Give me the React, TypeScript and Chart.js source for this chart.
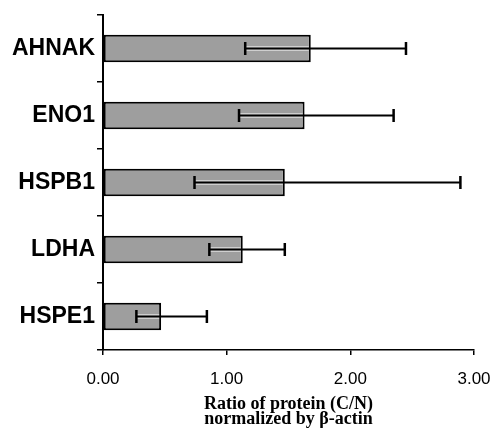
import React, { useEffect, useRef } from "react";
import { Chart, registerables } from "chart.js";

Chart.register(...registerables);

const categories = ["AHNAK", "ENO1", "HSPB1", "LDHA", "HSPE1"];
const meanValues = [1.68, 1.63, 1.47, 1.13, 0.47];
const errorLow = [1.15, 1.1, 0.74, 0.86, 0.27];
const errorHigh = [2.45, 2.35, 2.89, 1.47, 0.84];
const xTicks = [0, 1, 2, 3];
const axisTitle = ["Ratio of protein (C/N)", "normalized by \u03b2-actin"];

const errorBarPlugin = {
  id: "errorBars",
  afterDatasetsDraw(chart: any) {
    const ctx = chart.ctx;
    const meta = chart.getDatasetMeta(0);
    const xs = chart.scales.x;
    ctx.save();
    meta.data.forEach((bar: any, i: number) => {
      const y = bar.y;
      const x1 = xs.getPixelForValue(errorLow[i]);
      const x2 = xs.getPixelForValue(errorHigh[i]);
      ctx.strokeStyle = "rgba(215,215,215,0.85)";
      ctx.lineWidth = 5;
      ctx.beginPath();
      ctx.moveTo(x1, y);
      ctx.lineTo(Math.min(x2, bar.x - 2), y);
      ctx.stroke();
      ctx.strokeStyle = "#000";
      ctx.lineWidth = 2;
      ctx.beginPath();
      ctx.moveTo(x1, y);
      ctx.lineTo(x2, y);
      ctx.stroke();
      ctx.lineWidth = 2.5;
      ctx.beginPath();
      ctx.moveTo(x1, y - 6.5);
      ctx.lineTo(x1, y + 6.5);
      ctx.moveTo(x2, y - 6.5);
      ctx.lineTo(x2, y + 6.5);
      ctx.stroke();
    });
    ctx.restore();
  },
};

export default function App() {
  const ref = useRef<HTMLCanvasElement | null>(null);
  useEffect(() => {
    if (!ref.current) return;
    const chart = new Chart(ref.current, {
      type: "bar",
      data: {
        labels: categories,
        datasets: [
          {
            data: meanValues,
            backgroundColor: "#9e9e9e",
            borderColor: "#000",
            borderWidth: 2,
            borderSkipped: false,
            barPercentage: 0.41,
            categoryPercentage: 1.0,
          },
        ],
      },
      options: {
        indexAxis: "y",
        animation: false,
        responsive: false,
        maintainAspectRatio: false,
        layout: { padding: { left: 0, right: 22, top: 15, bottom: 0 } },
        plugins: {
          legend: { display: false },
          tooltip: { enabled: false },
        },
        scales: {
          x: {
            min: 0,
            max: 3,
            afterBuildTicks: (s: any) => {
              s.ticks = xTicks.map((v) => ({ value: v }));
            },
            afterFit: (s: any) => {
              s.height = 83;
              s.paddingRight = 0;
              s.paddingLeft = 0;
            },
            border: { color: "#000", width: 1.5 },
            grid: { drawOnChartArea: false, tickLength: 5, color: "#000", lineWidth: 1.5 },
            ticks: {
              color: "#000",
              padding: 14,
              maxRotation: 0,
              font: { family: "Liberation Sans, Arial", size: 17 },
              callback: (v: any) => Number(v).toFixed(2),
            },
            title: {
              display: true,
              text: axisTitle,
              color: "#000",
              padding: { top: 0, bottom: 6 },
              font: { family: "Liberation Serif, Times New Roman", size: 18, weight: "bold", lineHeight: 0.83 },
            },
          },
          y: {
            afterFit: (s: any) => {
              s.width = 103;
              s.paddingTop = 0;
              s.paddingBottom = 0;
            },
            border: { color: "#000", width: 2 },
            grid: { drawOnChartArea: false, tickLength: 6, color: "#000", lineWidth: 1.5, offset: true },
            ticks: {
              color: "#000",
              padding: 2,
              font: { family: "Liberation Sans, Arial", size: 23, weight: "bold" },
            },
          },
        },
      },
      plugins: [errorBarPlugin],
    });
    return () => chart.destroy();
  }, []);
  return (
    <div style={{ position: "absolute", left: 0, top: 0, width: 496, height: 433, background: "#fff" }}>
      <canvas ref={ref} width={496} height={433} />
    </div>
  );
}
